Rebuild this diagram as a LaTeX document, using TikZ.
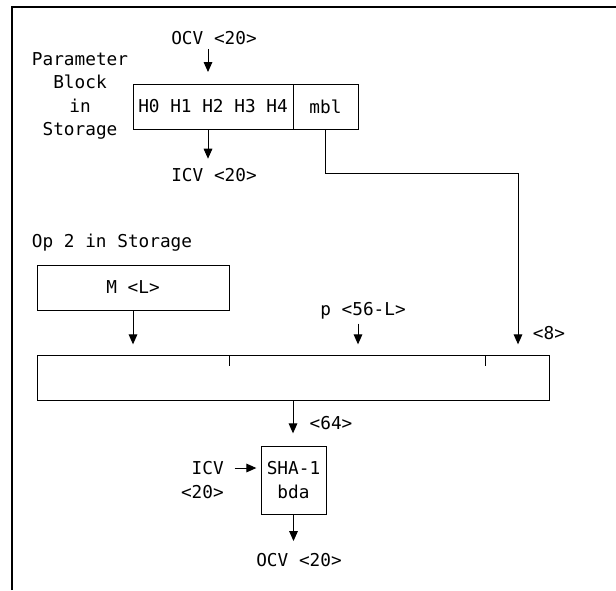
\documentclass[tikz,border=0pt]{standalone}
\usepackage{fontspec}
\newfontfamily\diagfont{DejaVu Sans Mono}
\usetikzlibrary{positioning,arrows.meta}

\begin{document}
\begin{tikzpicture}[
        x=0.75pt, y=-0.75pt,
        every node/.style={font=\diagfont\fontsize{13.3pt}{17.5pt}\selectfont, inner sep=0pt},
        regbox/.style={draw, line width=0.75pt, outer sep=0pt, minimum height=33.75pt},
        arrow/.style={-{Triangle[length=7.5pt,width=6.5pt]}, line width=0.75pt},
        frame/.style={line width=1.5pt}
    ]
        \useasboundingbox (0,0) rectangle (616,590);
        \draw[frame] (12,590) -- (12,7) -- (616,7);

        % parameter block
        \node[align=center] (parm) at (80,96) {Parameter\\Block\\in\\Storage};
        \node[regbox, minimum width=120pt] (hreg) at (213,106.5) {H0 H1 H2 H3 H4};
        \node[regbox, minimum width=48.75pt, right=0pt of hreg] (mbl) {mbl};
        \node (ocvin)  at (214,38)  {OCV <20>};
        \node (icvout) at (214,175) {ICV <20>};

        % op 2
        \node (optwo) at (112,243) {Op 2 in Storage};
        \node[regbox, minimum width=144pt] (mreg) at (133,287.5) {M <L>};
        \node (pad)   at (363,311) {p <56-L>};
        \node (mlen)  at (549,333) {<8>};
        \node[regbox, minimum width=384pt] (blk) at (293,377.5) {};

        % hash
        \node (blen) at (331,423) {<64>};
        \node[regbox, minimum width=48.75pt, minimum height=51pt, align=center] (sha) at (293.5,480) {SHA-1\\bda};
        \node[align=right, anchor=east] (icvin) at (224,480) {ICV\\<20>};
        \node (ocvout) at (299,560) {OCV <20>};

        \coordinate (bend) at (518,173);

        \draw[arrow, shorten <=3pt, shorten >=9pt] ([xshift=-4.5pt]ocvin.south) -- ([xshift=-4.5pt]ocvin.south |- hreg.north);
        \draw[arrow, shorten >=7pt] ([xshift=-3.75pt]hreg.south) -- ([xshift=-3.75pt]hreg.south |- icvout.north);
        \draw[arrow, shorten >=8pt] (mbl.south) |- (bend) -- (bend |- blk.north);
        \draw[arrow, shorten >=8pt] (mreg.south) -- (mreg.south |- blk.north);
        \draw[arrow, shorten <=3pt, shorten >=8pt] ([xshift=-3.75pt]pad.south) -- ([xshift=-3.75pt]pad.south |- blk.north);
        \draw (blk.north -| mreg.east) -- ++(0,11);
        \draw ([xshift=-48pt]blk.north east) -- ++(0,11);
        \draw[arrow, shorten >=9.5pt] (blk.south) -- (blk.south |- sha.north);
        \draw[arrow, shorten <=8pt, shorten >=3.5pt] ([yshift=9pt]icvin.east) -- ([yshift=9pt]icvin.east -| sha.west);
        \draw[arrow, shorten >=9pt] (sha.south) -- (sha.south |- ocvout.north);
    \end{tikzpicture}
\end{document}
